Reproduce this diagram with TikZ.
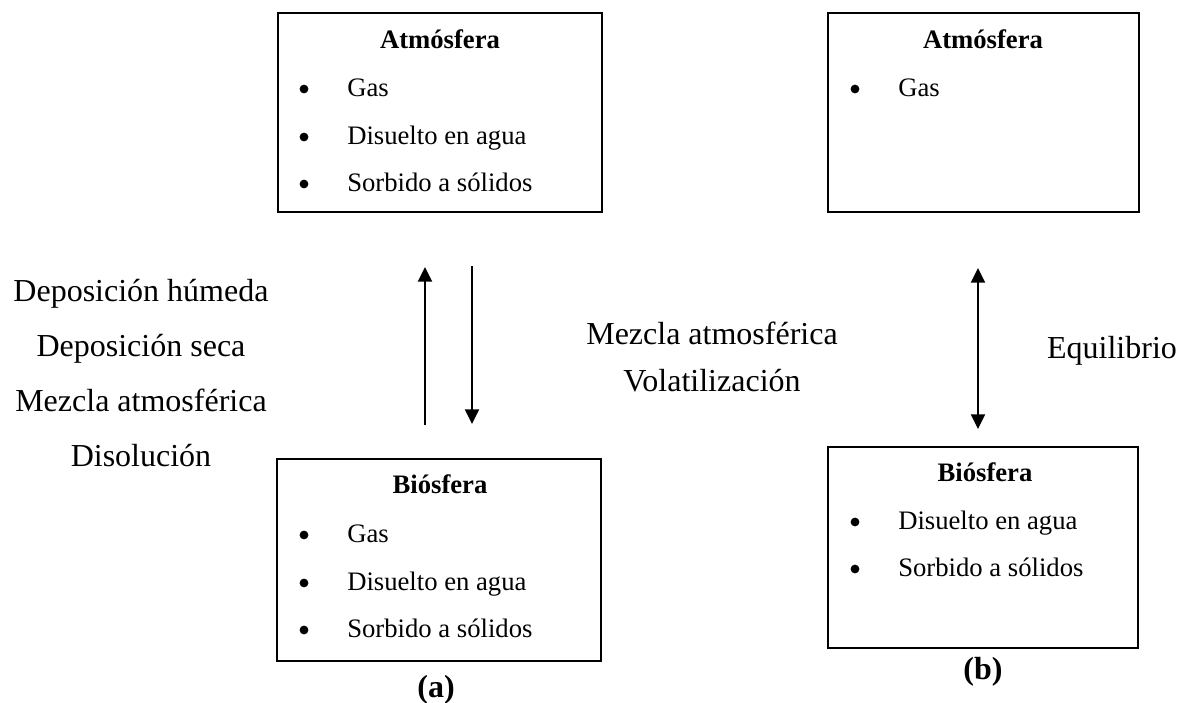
\documentclass[tikz,border=0pt]{standalone}
\usepackage{fontspec}
\setmainfont{Liberation Serif}
\usetikzlibrary{arrows.meta}
\begin{document}
\begin{tikzpicture}[x=0.75pt,y=-0.75pt,
  box/.style={draw, line width=1.4pt, inner sep=0pt},
  boxtitle/.style={font=\fontsize{20}{24}\selectfont\bfseries, anchor=base, inner sep=0pt},
  item/.style={font=\fontsize{20}{24}\selectfont, anchor=base west, inner sep=0pt},
  label/.style={font=\fontsize{24}{28}\selectfont, anchor=base, inner sep=0pt},
  caption/.style={font=\fontsize{24}{28}\selectfont\bfseries, anchor=base, inner sep=0pt},
  flow/.style={line width=1.5pt, -{Triangle[length=11pt,width=10.5pt]}},
  flow2/.style={line width=1.5pt, {Triangle[length=11pt,width=10.5pt]}-{Triangle[length=11pt,width=10.5pt]}},
  dot/.style={circle, fill, inner sep=0pt, minimum size=6.6pt}
]
\useasboundingbox (0,0) rectangle (1179,703);

% boxes
\node[box, minimum width=243pt, minimum height=149.25pt] (atmA) at (440,112.5) {};
\node[box, minimum width=233.25pt, minimum height=149.25pt] (atmB) at (983.5,112.5) {};
\node[box, minimum width=243pt, minimum height=151.5pt] (bioA) at (439,560) {};
\node[box, minimum width=232.5pt, minimum height=150.75pt] (bioB) at (983,547.5) {};

% titles
\node[boxtitle] (tAA) at (440,48) {Atmósfera};
\node[boxtitle] (tAB) at (983,48) {Atmósfera};
\node[boxtitle] (tBA) at (440,493) {Biósfera};
\node[boxtitle] (tBB) at (985,481) {Biósfera};

% items box atmA
\node[dot] (d1) at (304,89) {};
\node[item] (i1) at (347,96) {Gas};
\node[dot] (d2) at (304,137) {};
\node[item] (i2) at (347,144) {Disuelto en agua};
\node[dot] (d3) at (304,184) {};
\node[item] (i3) at (347,191) {Sorbido a sólidos};

% items box atmB
\node[dot] (d4) at (855,89) {};
\node[item] (i4) at (898,96) {Gas};

% items box bioA
\node[dot] (d5) at (304,535) {};
\node[item] (i5) at (347,542) {Gas};
\node[dot] (d6) at (304,583) {};
\node[item] (i6) at (347,590) {Disuelto en agua};
\node[dot] (d7) at (304,630) {};
\node[item] (i7) at (347,637) {Sorbido a sólidos};

% items box bioB
\node[dot] (d8) at (855,522) {};
\node[item] (i8) at (898,529) {Disuelto en agua};
\node[dot] (d9) at (855,569) {};
\node[item] (i9) at (898,576) {Sorbido a sólidos};

% left labels
\node[label] (l1) at (141,301) {Deposición húmeda};
\node[label] (l2) at (141,356) {Deposición seca};
\node[label] (l3) at (141,411) {Mezcla atmosférica};
\node[label] (l4) at (141,466) {Disolución};

% middle labels
\node[label] (m1) at (712,344) {Mezcla atmosférica};
\node[label] (m2) at (712,391) {Volatilización};

% right label
\node[label] (r1) at (1112,358) {Equilibrio};

% captions
\node[caption] (ca) at (436,697) {(a)};
\node[caption] (cb) at (983,679) {(b)};

% arrow endpoints
\coordinate (upS) at (425,425);
\coordinate (upE) at (425,267);
\coordinate (dnS) at (472,266);
\coordinate (dnE) at (472,424);
\coordinate (eqS) at (978,268);
\coordinate (eqE) at (978,429);

\draw[flow] (upS) -- (upE);
\draw[flow] (dnS) -- (dnE);
\draw[flow2] (eqS) -- (eqE);
\end{tikzpicture}
\end{document}
